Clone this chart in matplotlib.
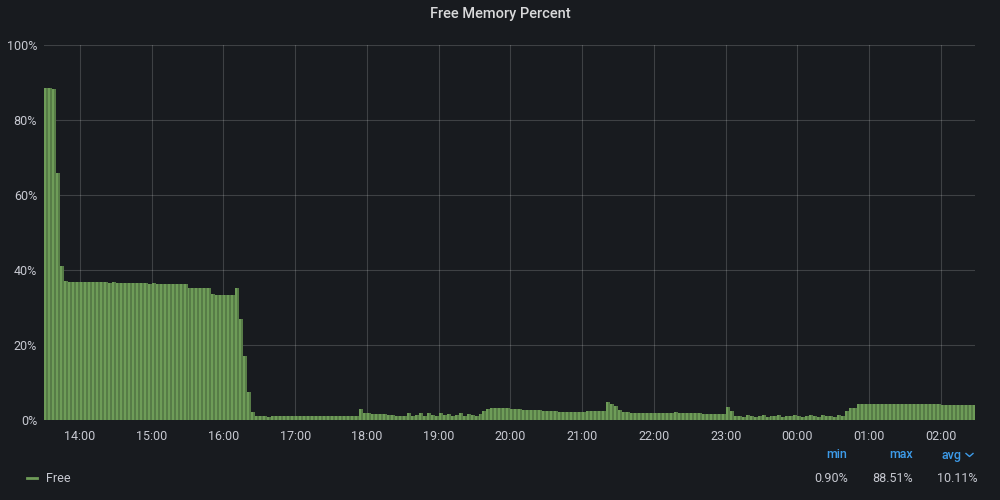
import numpy as np
import matplotlib
matplotlib.use("Agg")
import matplotlib.pyplot as plt
import matplotlib.dates as mdates
from matplotlib.lines import Line2D

# one sample every 200 s, starting 13:30
start = np.datetime64("2024-01-01T13:30:00")
step_s = 200
free_pct = [
    88.5, 88.5, 88.4, 66.0, 41.0, 37.2,
    36.9, 36.9, 36.8, 36.9, 36.9, 36.8, 36.8, 36.8,
    36.7, 36.7, 36.6, 36.7,
    36.5, 36.6, 36.5, 36.5, 36.5, 36.6, 36.5, 36.5, 36.4, 36.5, 36.4, 36.4,
    36.3, 36.3, 36.3, 36.3, 36.3, 36.3,
    35.3, 35.1, 35.1, 35.1, 35.1, 35.1,
    33.5, 33.3, 33.3, 33.3, 33.3, 33.3,
    35.3, 27.0, 17.0, 7.5, 2.2,
    1.0, 1.0, 1.0, 0.9, 1.0, 1.0, 1.0, 1.0, 1.0, 1.0, 1.0, 1.0, 1.0,
    1.0, 1.0, 1.0, 1.0, 1.0, 1.0, 1.0, 1.0, 1.0, 1.0, 1.0, 1.1, 1.0,
    2.9, 2.0, 1.9,
    1.7, 1.6, 1.5, 1.5, 1.4, 1.3,
    1.1, 1.1,
    1.2, 1.8, 1.2, 1.3, 2.0, 1.2, 1.8, 1.3, 1.2, 1.9,
    1.3, 1.7, 1.2, 1.3, 1.8, 1.2, 1.7, 1.3, 1.2, 1.6,
    2.5, 3.0, 3.1,
    3.2, 3.2, 3.1, 3.1, 3.0,
    2.9, 2.9, 2.8, 2.8, 2.7, 2.7,
    2.6, 2.5, 2.4, 2.3, 2.3, 2.2, 2.2, 2.2, 2.2, 2.2, 2.2, 2.2,
    2.3, 2.3, 2.3, 2.3, 2.3,
    4.8, 4.3, 3.7, 2.8,
    2.1, 2.1, 2.0, 2.0, 2.0, 2.0, 2.0, 2.0, 2.0, 2.0, 2.0,
    2.0, 2.0, 2.1, 2.0, 2.0, 2.0, 2.0, 2.0, 1.9,
    1.6, 1.6, 1.6, 1.6, 1.6, 1.6,
    3.5, 2.4, 1.2,
    1.0, 0.9, 1.3, 1.0, 0.9, 1.0, 1.3, 0.9, 1.0, 1.0, 1.3, 0.9, 1.0, 1.0,
    1.3, 1.0, 0.9, 1.0, 1.3, 1.0, 0.9, 1.3, 1.0, 1.0, 0.9, 1.3, 1.0,
    2.5, 3.2, 3.2,
    4.3, 4.3, 4.3, 4.3, 4.3, 4.3, 4.3, 4.3, 4.2, 4.2, 4.2, 4.2, 4.2, 4.2, 4.2,
    4.2, 4.2, 4.2, 4.2, 4.2, 4.2, 4.1, 4.1, 4.1, 4.1, 4.1, 4.1, 4.1, 4.1, 4.1, 4.1,
]
y_ticks = [0, 20, 40, 60, 80, 100]
legend_name = "Free"
stat_names = ["min", "max", "avg"]
stat_values = ["0.90%", "88.51%", "10.11%"]

bg = "#181b1f"
txt = "#c7c9d1"
light = "#6e9c58"
dark = "#577c47"

plt.rcParams["font.family"] = ["Roboto", "DejaVu Sans"]

times = start + np.arange(len(free_pct)) * np.timedelta64(step_s, "s")
t_num = mdates.date2num(times.astype("datetime64[ms]").astype(object))
w = step_s / 86400.0

fig = plt.figure(figsize=(10, 5), dpi=100, facecolor=bg)
ax = fig.add_axes([0.044, 0.16, 0.931, 0.75], facecolor=bg)

ax.bar(t_num, free_pct, width=w, align="edge", color=dark, linewidth=0, zorder=2)
ax.bar(t_num, free_pct, width=w / 2, align="edge", color=light, linewidth=0, zorder=3)

x0 = mdates.date2num(start.astype("datetime64[ms]").astype(object))
ax.set_xlim(x0, x0 + 778.5 / 1440.0)
ax.set_ylim(0, 100)
ax.set_yticks(y_ticks)
ax.set_yticklabels([f"{v}%" for v in y_ticks])
ax.xaxis.set_major_locator(mdates.HourLocator())
ax.xaxis.set_major_formatter(mdates.DateFormatter("%H:%M"))
ax.tick_params(colors=txt, labelsize=9, length=0)
ax.tick_params(axis="x", pad=7)
ax.tick_params(axis="y", pad=5)
ax.grid(True, color="#ffffff", alpha=0.17, linewidth=0.8, zorder=0)
ax.set_axisbelow(True)
for s in ax.spines.values():
    s.set_visible(False)

fig.text(0.5, 0.972, "Free Memory Percent", ha="center", va="center",
         color="#d8d9da", fontsize=10.5, fontweight="medium")

# legend
fig.lines.append(Line2D([0.027, 0.037], [0.044, 0.044], color="#6e9c58",
                        linewidth=2, transform=fig.transFigure))
fig.text(0.046, 0.044, legend_name, ha="left", va="center", color=txt, fontsize=9)

head_x = [0.847, 0.913, 0.962]
val_x = [0.848, 0.913, 0.977]
for name, hx in zip(stat_names, head_x):
    fig.text(hx, 0.09, name, ha="right", va="center", color="#3d9be9",
             fontsize=9, fontweight="medium")
for val, vx in zip(stat_values, val_x):
    fig.text(vx, 0.044, val, ha="right", va="center", color=txt, fontsize=9)
fig.lines.append(Line2D([0.966, 0.9695, 0.973], [0.093, 0.087, 0.093], color="#3d9be9",
                        linewidth=1, transform=fig.transFigure))

fig.savefig("out.png", dpi=100, facecolor=bg)
